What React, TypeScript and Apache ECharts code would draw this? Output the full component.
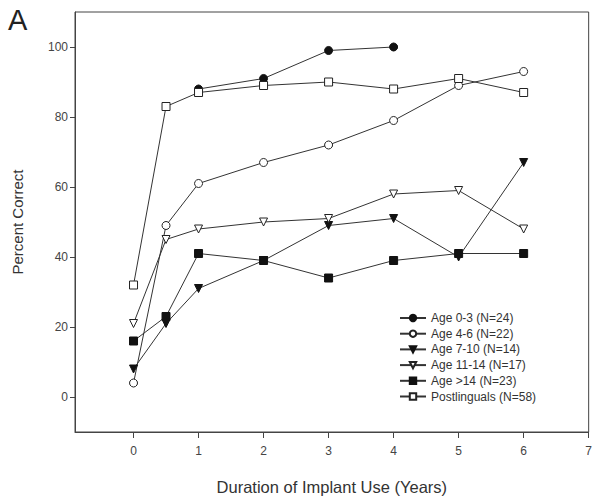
import React, { useEffect, useRef } from "react";
import * as echarts from "echarts";

const xTicks = [0, 1, 2, 3, 4, 5, 6, 7];
const yTicks = [0, 20, 40, 60, 80, 100];

const age03X = [1, 2, 3, 4];
const age03 = [88, 91, 99, 100];

const durX = [0, 0.5, 1, 2, 3, 4, 5, 6];
const age46 = [4, 49, 61, 67, 72, 79, 89, 93];
const age710 = [8, 21, 31, 39, 49, 51, 40, 67];
const age1114 = [21, 45, 48, 50, 51, 58, 59, 48];
const age14plus = [16, 23, 41, 39, 34, 39, 41, 41];
const postling = [32, 83, 87, 89, 90, 88, 91, 87];

const names = [
  "Age 0-3 (N=24)",
  "Age 4-6 (N=22)",
  "Age 7-10 (N=14)",
  "Age 11-14 (N=17)",
  "Age >14 (N=23)",
  "Postlinguals (N=58)",
];

const FONT = "Liberation Sans, Arial, sans-serif";

function pairs(xs: number[], ys: number[]) {
  return xs.map((x, i) => [x, ys[i]]);
}

export default function App() {
  const ref = useRef<HTMLDivElement>(null);
  useEffect(() => {
    const chart = echarts.init(ref.current!, undefined, { renderer: "svg" });
    const lineStyle = { color: "#333", width: 1 };
    const filled = { color: "#111", borderColor: "#111", borderWidth: 1 };
    const open = { color: "#fff", borderColor: "#222", borderWidth: 1 };
    const mk = (
      name: string,
      data: number[][],
      symbol: string,
      itemStyle: any,
      rotate = 0,
      size = 8
    ) => ({
      name,
      type: "line",
      data,
      symbol,
      symbolSize: size,
      symbolRotate: rotate,
      showAllSymbol: true,
      lineStyle,
      itemStyle,
      emphasis: { disabled: true },
    });
    chart.setOption({
      animation: false,
      backgroundColor: "#fff",
      title: {
        text: "A",
        left: 3,
        top: 0,
        textStyle: { fontSize: 29, fontWeight: "normal", color: "#222", fontFamily: FONT },
      },
      grid: {
        left: 75,
        top: 12,
        right: 2,
        bottom: 67,
        show: true,
        borderColor: "#444",
        borderWidth: 1,
      },
      legend: {
        orient: "vertical",
        left: 394,
        top: 307,
        itemWidth: 26,
        itemHeight: 8,
        itemGap: 3.7,
        data: names,
        textStyle: { fontSize: 12, color: "#333", fontFamily: FONT },
      },
      xAxis: {
        type: "value",
        min: -0.9,
        max: 7,
        name: "Duration of Implant Use (Years)",
        nameLocation: "middle",
        nameGap: 46,
        nameTextStyle: { fontSize: 16.5, color: "#333", fontFamily: FONT },
        axisLine: { show: true, onZero: false, lineStyle: { color: "#444" } },
        axisTick: { show: true, customValues: xTicks, length: 6, lineStyle: { color: "#444" } },
        axisLabel: { customValues: xTicks, fontSize: 12, color: "#444", margin: 13, fontFamily: FONT },
        splitLine: { show: false },
      },
      yAxis: {
        type: "value",
        min: -10,
        max: 110,
        name: "Percent Correct",
        nameLocation: "middle",
        nameGap: 50,
        nameTextStyle: { fontSize: 15, color: "#333", fontFamily: FONT },
        axisLine: { show: true, onZero: false, lineStyle: { color: "#444" } },
        axisTick: { show: true, customValues: yTicks, length: 5, lineStyle: { color: "#444" } },
        axisLabel: { customValues: yTicks, fontSize: 12, color: "#444", margin: 7, fontFamily: FONT },
        splitLine: { show: false },
      },
      series: [
        mk(names[0], pairs(age03X, age03), "circle", filled, 0, 8),
        mk(names[1], pairs(durX, age46), "circle", open, 0, 8),
        mk(names[2], pairs(durX, age710), "triangle", filled, 180, 8),
        mk(names[3], pairs(durX, age1114), "triangle", open, 180, 8),
        mk(names[4], pairs(durX, age14plus), "rect", filled, 0, 8),
        mk(names[5], pairs(durX, postling), "rect", open, 0, 8),
      ],
    });
    return () => chart.dispose();
  }, []);
  return <div ref={ref} style={{ width: 595, height: 500, position: "absolute", left: 0, top: 0 }} />;
}
